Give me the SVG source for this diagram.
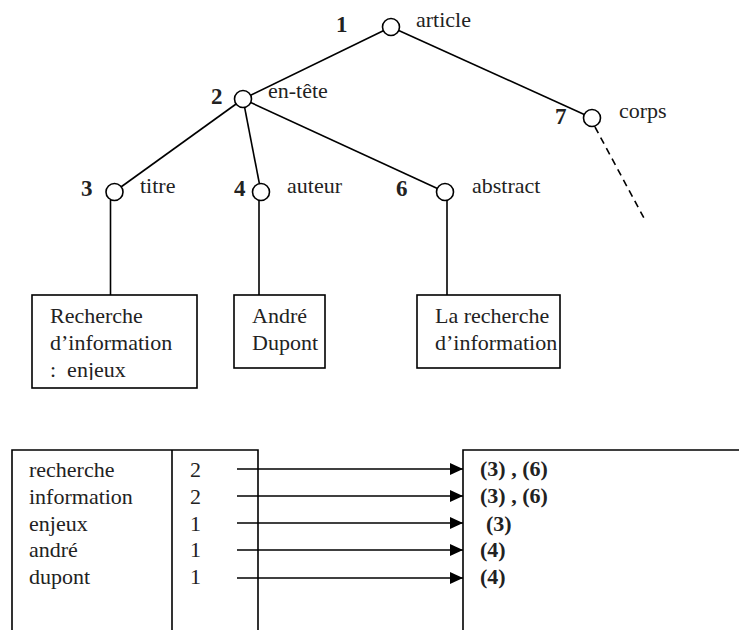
<svg xmlns="http://www.w3.org/2000/svg" width="739" height="630" viewBox="0 0 739 630">
<style>
.ln{stroke:#000;stroke-width:1.6;fill:none}
.c{stroke:#000;stroke-width:1.6;fill:#fff}
.t{font-family:"Liberation Serif","Times New Roman",serif;font-size:22px;fill:#222}
.n{font-family:"Liberation Serif","Times New Roman",serif;font-size:23px;font-weight:bold;fill:#222}
.b{font-weight:bold}
</style>
<defs>
<marker id="ah" markerWidth="13" markerHeight="12" refX="13" refY="6" orient="auto" markerUnits="userSpaceOnUse">
<path d="M0,0 L13,6 L0,12 Z" fill="#000"/>
</marker>
<clipPath id="clip1"><rect x="33" y="295" width="163" height="85"/></clipPath>
</defs>
<g id="connectors">
<line class="ln" x1="391" y1="27" x2="243" y2="99"/>
<line class="ln" x1="391" y1="27" x2="592" y2="118"/>
<line class="ln" x1="243" y1="99" x2="114" y2="192"/>
<line class="ln" x1="243" y1="99" x2="261" y2="192"/>
<line class="ln" x1="243" y1="99" x2="445" y2="192"/>
<line class="ln" x1="595" y1="127" x2="645" y2="220" stroke-dasharray="7,5"/>
<line class="ln" x1="110.5" y1="200" x2="110.5" y2="295"/>
<line class="ln" x1="259" y1="200" x2="259" y2="295"/>
<line class="ln" x1="447" y1="200" x2="447" y2="295"/>
<line class="ln" x1="237" y1="469" x2="463" y2="469" marker-end="url(#ah)"/>
<line class="ln" x1="237" y1="496" x2="463" y2="496" marker-end="url(#ah)"/>
<line class="ln" x1="237" y1="523" x2="463" y2="523" marker-end="url(#ah)"/>
<line class="ln" x1="237" y1="550" x2="463" y2="550" marker-end="url(#ah)"/>
<line class="ln" x1="237" y1="578" x2="463" y2="578" marker-end="url(#ah)"/>
</g>
<g id="n1"><circle class="c" cx="391" cy="27" r="8.5"/><text class="n" x="336" y="32">1</text><text class="t" x="416" y="27">article</text></g>
<g id="n2"><circle class="c" cx="243" cy="99" r="8.5"/><text class="n" x="211" y="104">2</text><text class="t" x="268" y="98">en-tête</text></g>
<g id="n7"><circle class="c" cx="592" cy="118" r="8.5"/><text class="n" x="555" y="124">7</text><text class="t" x="619" y="118">corps</text></g>
<g id="n3"><circle class="c" cx="114.5" cy="192" r="8.5"/><text class="n" x="81" y="196">3</text><text class="t" x="140" y="193">titre</text></g>
<g id="n4"><circle class="c" cx="261" cy="192" r="8.5"/><text class="n" x="234" y="196">4</text><text class="t" x="287" y="193">auteur</text></g>
<g id="n6"><circle class="c" cx="445" cy="192" r="8.5"/><text class="n" x="396" y="196">6</text><text class="t" x="472" y="193">abstract</text></g>
<g id="b1"><rect class="ln" x="32" y="295" width="165" height="93"/><text class="t" x="50" y="323">Recherche</text><text class="t" x="50" y="350">d’information</text><text class="t" x="50" y="377" clip-path="url(#clip1)" xml:space="preserve">:  enjeux</text></g>
<g id="b2"><rect class="ln" x="234" y="295" width="91" height="73"/><text class="t" x="252" y="323">André</text><text class="t" x="252" y="350">Dupont</text></g>
<g id="b3"><rect class="ln" x="417" y="295" width="143" height="73"/><text class="t" x="435" y="323">La recherche</text><text class="t" x="435" y="350">d’information</text></g>
<g id="table">
<path class="ln" d="M12,632 V450 H258 V632"/>
<line class="ln" x1="172" y1="450" x2="172" y2="632"/>
<path class="ln" d="M463,632 V450 H741"/>
<text class="t" x="29" y="477">recherche</text>
<text class="t" x="29" y="504">information</text>
<text class="t" x="29" y="531">enjeux</text>
<text class="t" x="29" y="557">andré</text>
<text class="t" x="29" y="584">dupont</text>
<text class="t" x="190" y="477">2</text>
<text class="t" x="190" y="504">2</text>
<text class="t" x="190" y="531">1</text>
<text class="t" x="190" y="557">1</text>
<text class="t" x="190" y="584">1</text>
<text class="t b" x="480" y="476">(3) , (6)</text>
<text class="t b" x="480" y="503">(3) , (6)</text>
<text class="t b" x="486" y="531">(3)</text>
<text class="t b" x="480" y="557">(4)</text>
<text class="t b" x="480" y="584">(4)</text>
</g>
</svg>
